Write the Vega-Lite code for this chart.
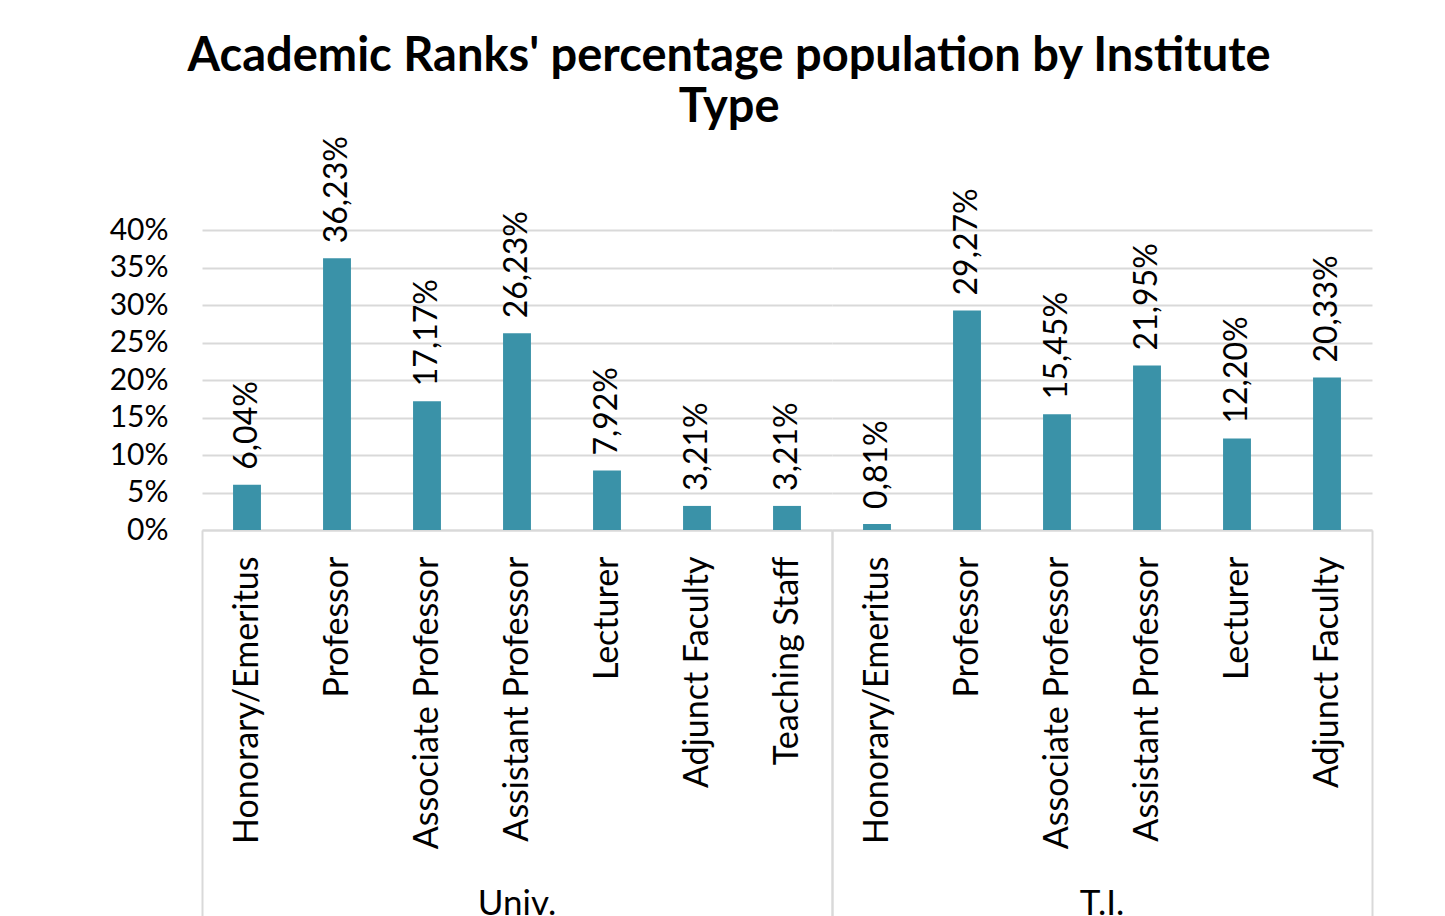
{
  "$schema": "https://vega.github.io/schema/vega-lite/v6.json",
  "background": "white",
  "padding": {"left": 109, "top": 33, "right": 60, "bottom": 0},
  "bounds": "flush",
  "title": {
    "text": ["Academic Ranks' percentage population by Institute", "Type"],
    "font": "Lato",
    "fontSize": 47,
    "fontWeight": "bold",
    "color": "#000000",
    "anchor": "middle",
    "lineHeight": 51,
    "offset": 4,
    "dx": -12
  },
  "data": {
    "values": [
      {"type": "Univ.", "rank": "Honorary/Emeritus", "order": 1, "share": 0.0604},
      {"type": "Univ.", "rank": "Professor", "order": 2, "share": 0.3623},
      {"type": "Univ.", "rank": "Associate Professor", "order": 3, "share": 0.1717},
      {"type": "Univ.", "rank": "Assistant Professor", "order": 4, "share": 0.2623},
      {"type": "Univ.", "rank": "Lecturer", "order": 5, "share": 0.0792},
      {"type": "Univ.", "rank": "Adjunct Faculty", "order": 6, "share": 0.0321},
      {"type": "Univ.", "rank": "Teaching Staff", "order": 7, "share": 0.0321},
      {"type": "T.I.", "rank": "Honorary/Emeritus", "order": 1, "share": 0.0081},
      {"type": "T.I.", "rank": "Professor", "order": 2, "share": 0.2927},
      {"type": "T.I.", "rank": "Associate Professor", "order": 3, "share": 0.1545},
      {"type": "T.I.", "rank": "Assistant Professor", "order": 4, "share": 0.2195},
      {"type": "T.I.", "rank": "Lecturer", "order": 5, "share": 0.122},
      {"type": "T.I.", "rank": "Adjunct Faculty", "order": 6, "share": 0.2033}
    ]
  },
  "facet": {
    "column": {
      "field": "type",
      "type": "nominal",
      "sort": ["Univ.", "T.I."],
      "title": null,
      "header": {
        "labelOrient": "bottom",
        "labelFont": "Lato",
        "labelFontSize": 35,
        "labelColor": "#000000",
        "labelPadding": 357
      }
    }
  },
  "spacing": 0,
  "resolve": {"scale": {"x": "independent"}},
  "spec": {
    "width": {"step": 90},
    "height": 300,
    "encoding": {
      "x": {
        "field": "rank",
        "type": "nominal",
        "sort": {"field": "order"},
        "title": null,
        "scale": {"paddingInner": 0, "paddingOuter": 0},
        "axis": {
          "labelAngle": -90,
          "labelFont": "Lato",
          "labelFontSize": 34,
          "labelColor": "#000000",
          "labelLimit": 0,
          "labelPadding": -361,
          "domainColor": "#d9d9d9",
          "domainWidth": 2,
          "ticks": true,
          "tickBand": "extent",
          "tickSize": 387,
          "tickWidth": 2,
          "tickColor": {
            "condition": {"test": "datum.extra || datum.index === 1", "value": "#d9d9d9"},
            "value": "transparent"
          },
          "grid": false
        }
      },
      "y": {
        "field": "share",
        "type": "quantitative",
        "title": null,
        "scale": {"domain": [0, 0.4], "nice": false},
        "axis": {
          "format": ".0%",
          "values": [0, 0.05, 0.1, 0.15, 0.2, 0.25, 0.3, 0.35, 0.4],
          "labelFont": "Lato",
          "labelFontSize": 30,
          "labelColor": "#000000",
          "labelPadding": 34,
          "ticks": false,
          "domain": false,
          "gridColor": "#d9d9d9",
          "gridWidth": 2
        }
      }
    },
    "layer": [
      {"mark": {"type": "bar", "color": "#3A92A8", "width": {"band": 0.31}}},
      {
        "mark": {"type": "text", "angle": 270, "align": "left", "baseline": "middle", "dx": 15, "font": "Lato", "fontSize": 32, "color": "#000000"},
        "encoding": {"text": {"field": "share", "type": "quantitative", "format": ".2%"}}
      }
    ]
  },
  "config": {
    "locale": {"number": {"decimal": ",", "thousands": ".", "grouping": [3], "currency": ["", " €"]}},
    "view": {"stroke": null}
  }
}
